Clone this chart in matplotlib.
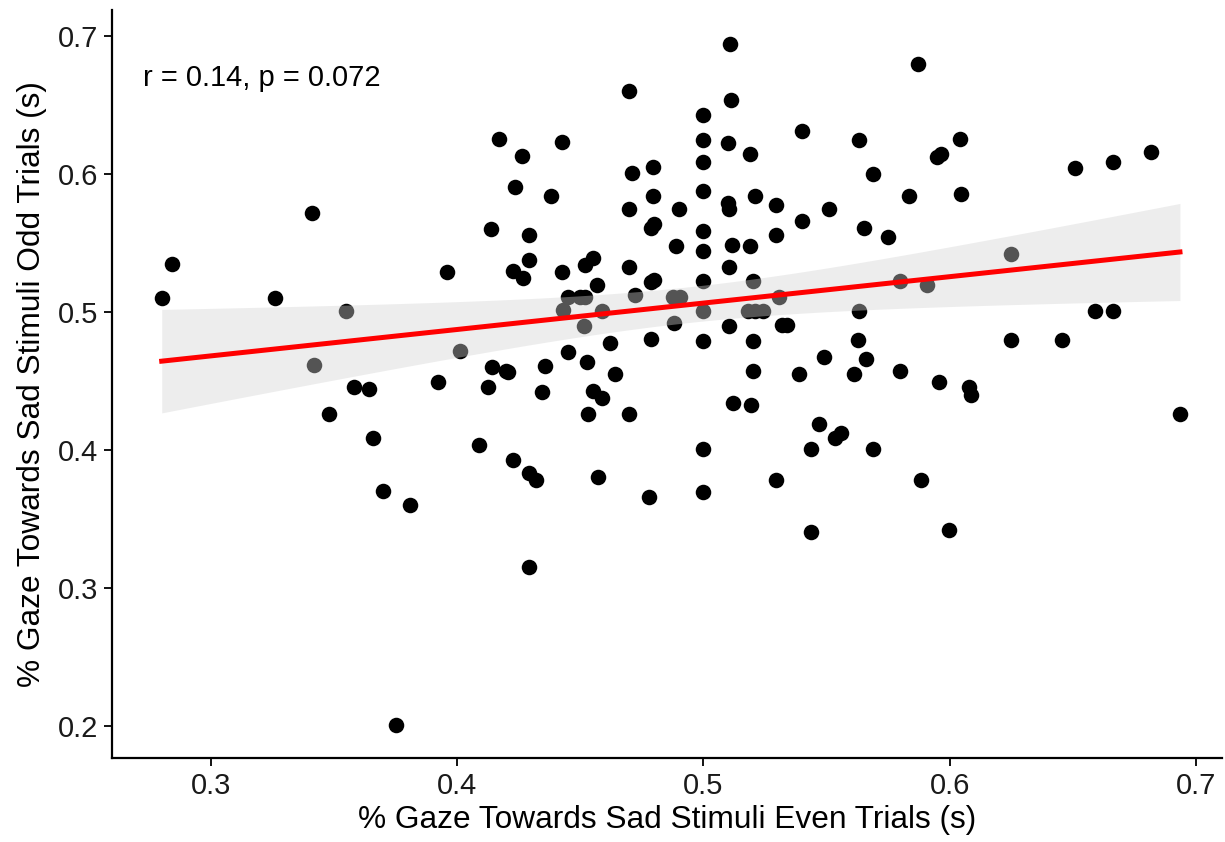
import numpy as np
import matplotlib
matplotlib.use("Agg")
import matplotlib.pyplot as plt

# values
even_trials = [
    0.417, 0.4235, 0.341, 0.4137, 0.284, 0.396, 0.4226, 0.280, 0.326, 0.355,
    0.342, 0.401, 0.414, 0.420, 0.392, 0.358, 0.364, 0.4125, 0.348, 0.366,
    0.409, 0.370, 0.381, 0.375,
    0.5108, 0.4698, 0.511, 0.500, 0.500, 0.4425, 0.510, 0.540, 0.563, 0.4263,
    0.519, 0.500, 0.471, 0.4795, 0.5688, 0.500, 0.438, 0.4795, 0.521, 0.510,
    0.5104, 0.5294, 0.4697, 0.490, 0.551, 0.540, 0.4787, 0.480, 0.565, 0.575,
    0.429, 0.500, 0.5294, 0.4888, 0.500, 0.5116, 0.519, 0.429, 0.455, 0.452,
    0.4267, 0.4425, 0.4697, 0.5104, 0.4568, 0.4787, 0.480, 0.500, 0.520,
    0.445, 0.450, 0.452, 0.472, 0.4876, 0.4905, 0.5307, 0.443, 0.4588, 0.500,
    0.518, 0.521, 0.524, 0.563, 0.4515, 0.488, 0.5104, 0.532, 0.534, 0.4787,
    0.462, 0.500, 0.520, 0.5627, 0.445, 0.549, 0.566, 0.4527, 0.4206, 0.4356,
    0.464, 0.520, 0.5388, 0.561,
    0.4344, 0.455, 0.4588, 0.453, 0.4698, 0.512, 0.5193, 0.547, 0.5534, 0.5558,
    0.5437, 0.500, 0.5688, 0.4226, 0.429, 0.432, 0.457, 0.478, 0.500, 0.5294,
    0.5437, 0.429,
    0.587, 0.604, 0.595, 0.5965, 0.651, 0.6663, 0.6817, 0.5834, 0.6046, 0.580,
    0.5908, 0.6249, 0.659, 0.6663, 0.625, 0.6456, 0.580, 0.5956, 0.6078, 0.6086,
    0.6935, 0.5883, 0.5997,
]
odd_trials = [
    0.6254, 0.591, 0.5717, 0.560, 0.535, 0.529, 0.530, 0.510, 0.510, 0.5007,
    0.462, 0.472, 0.460, 0.457, 0.449, 0.446, 0.444, 0.4457, 0.426, 0.409,
    0.404, 0.370, 0.360, 0.2007,
    0.694, 0.660, 0.6536, 0.643, 0.625, 0.623, 0.6225, 0.631, 0.625, 0.613,
    0.6145, 0.6087, 0.6007, 0.605, 0.600, 0.5877, 0.584, 0.584, 0.584, 0.579,
    0.5746, 0.578, 0.5746, 0.5746, 0.5746, 0.566, 0.561, 0.564, 0.561, 0.5543,
    0.556, 0.5587, 0.5558, 0.548, 0.5442, 0.549, 0.548, 0.5377, 0.539, 0.534,
    0.5246, 0.529, 0.5326, 0.5326, 0.520, 0.5215, 0.5235, 0.5225, 0.5225,
    0.511, 0.511, 0.511, 0.5123, 0.511, 0.511, 0.511, 0.5015, 0.5007, 0.5007,
    0.5007, 0.5007, 0.5007, 0.5007, 0.490, 0.492, 0.490, 0.4906, 0.4906, 0.4804,
    0.4775, 0.479, 0.479, 0.4797, 0.471, 0.4674, 0.466, 0.4638, 0.4565, 0.4609,
    0.455, 0.4572, 0.455, 0.455,
    0.442, 0.4428, 0.4377, 0.426, 0.426, 0.434, 0.4326, 0.4188, 0.4087, 0.4123,
    0.4007, 0.4007, 0.4007, 0.3928, 0.3833, 0.3783, 0.3804, 0.366, 0.3696, 0.3783,
    0.3406, 0.3152,
    0.680, 0.6254, 0.6123, 0.6145, 0.6043, 0.6087, 0.616, 0.584, 0.5855, 0.5225,
    0.5196, 0.542, 0.5007, 0.5007, 0.4797, 0.4797, 0.4572, 0.449, 0.4457, 0.4399,
    0.426, 0.3783, 0.342,
]

x_ticks = [0.3, 0.4, 0.5, 0.6, 0.7]
y_ticks = [0.2, 0.3, 0.4, 0.5, 0.6, 0.7]
stat_label = "r = 0.14, p = 0.072"


def main() -> None:
    plt.rcParams["font.family"] = ["Liberation Sans", "DejaVu Sans"]

    x = np.asarray(even_trials)
    y = np.asarray(odd_trials)

    # linear fit with 95% confidence band
    n = len(x)
    slope, intercept = np.polyfit(x, y, 1)
    xs = np.linspace(x.min(), x.max(), 80)
    fit = intercept + slope * xs
    resid = y - (intercept + slope * x)
    s = np.sqrt(np.sum(resid ** 2) / (n - 2))
    se = s * np.sqrt(1 / n + (xs - x.mean()) ** 2 / np.sum((x - x.mean()) ** 2))
    t = 1.976
    lo, hi = fit - t * se, fit + t * se

    fig = plt.figure(figsize=(12.25, 8.42), dpi=100)
    ax = fig.add_axes([0.0914, 0.0998, 0.9062, 0.888])

    ax.scatter(x, y, s=125, color="black", linewidths=0, zorder=2)
    ax.fill_between(xs, lo, hi, color="lightgray", alpha=0.4, linewidth=0, zorder=3)
    ax.plot(xs, fit, color="red", linewidth=3.6, zorder=4)

    ax.text(0.2724, 0.6696, stat_label, fontsize=21, ha="left", va="center")

    ax.set_xlim(0.2598, 0.7106)
    ax.set_ylim(0.1768, 0.7188)
    ax.set_xticks(x_ticks)
    ax.set_yticks(y_ticks)
    ax.set_xticklabels([f"{v:g}" for v in x_ticks])
    ax.set_yticklabels([f"{v:g}" for v in y_ticks])
    ax.tick_params(axis="both", labelsize=21, length=6, width=1.3,
                   colors="black", labelcolor="#1a1a1a", pad=4)

    for side in ("top", "right"):
        ax.spines[side].set_visible(False)
    for side in ("left", "bottom"):
        ax.spines[side].set_linewidth(1.6)

    ax.set_xlabel("% Gaze Towards Sad Stimuli Even Trials (s)", fontsize=22.8, labelpad=4)
    ax.set_ylabel("% Gaze Towards Sad Stimuli Odd Trials (s)", fontsize=22.8, labelpad=8)

    fig.savefig("out.png", dpi=100)


if __name__ == "__main__":
    main()
